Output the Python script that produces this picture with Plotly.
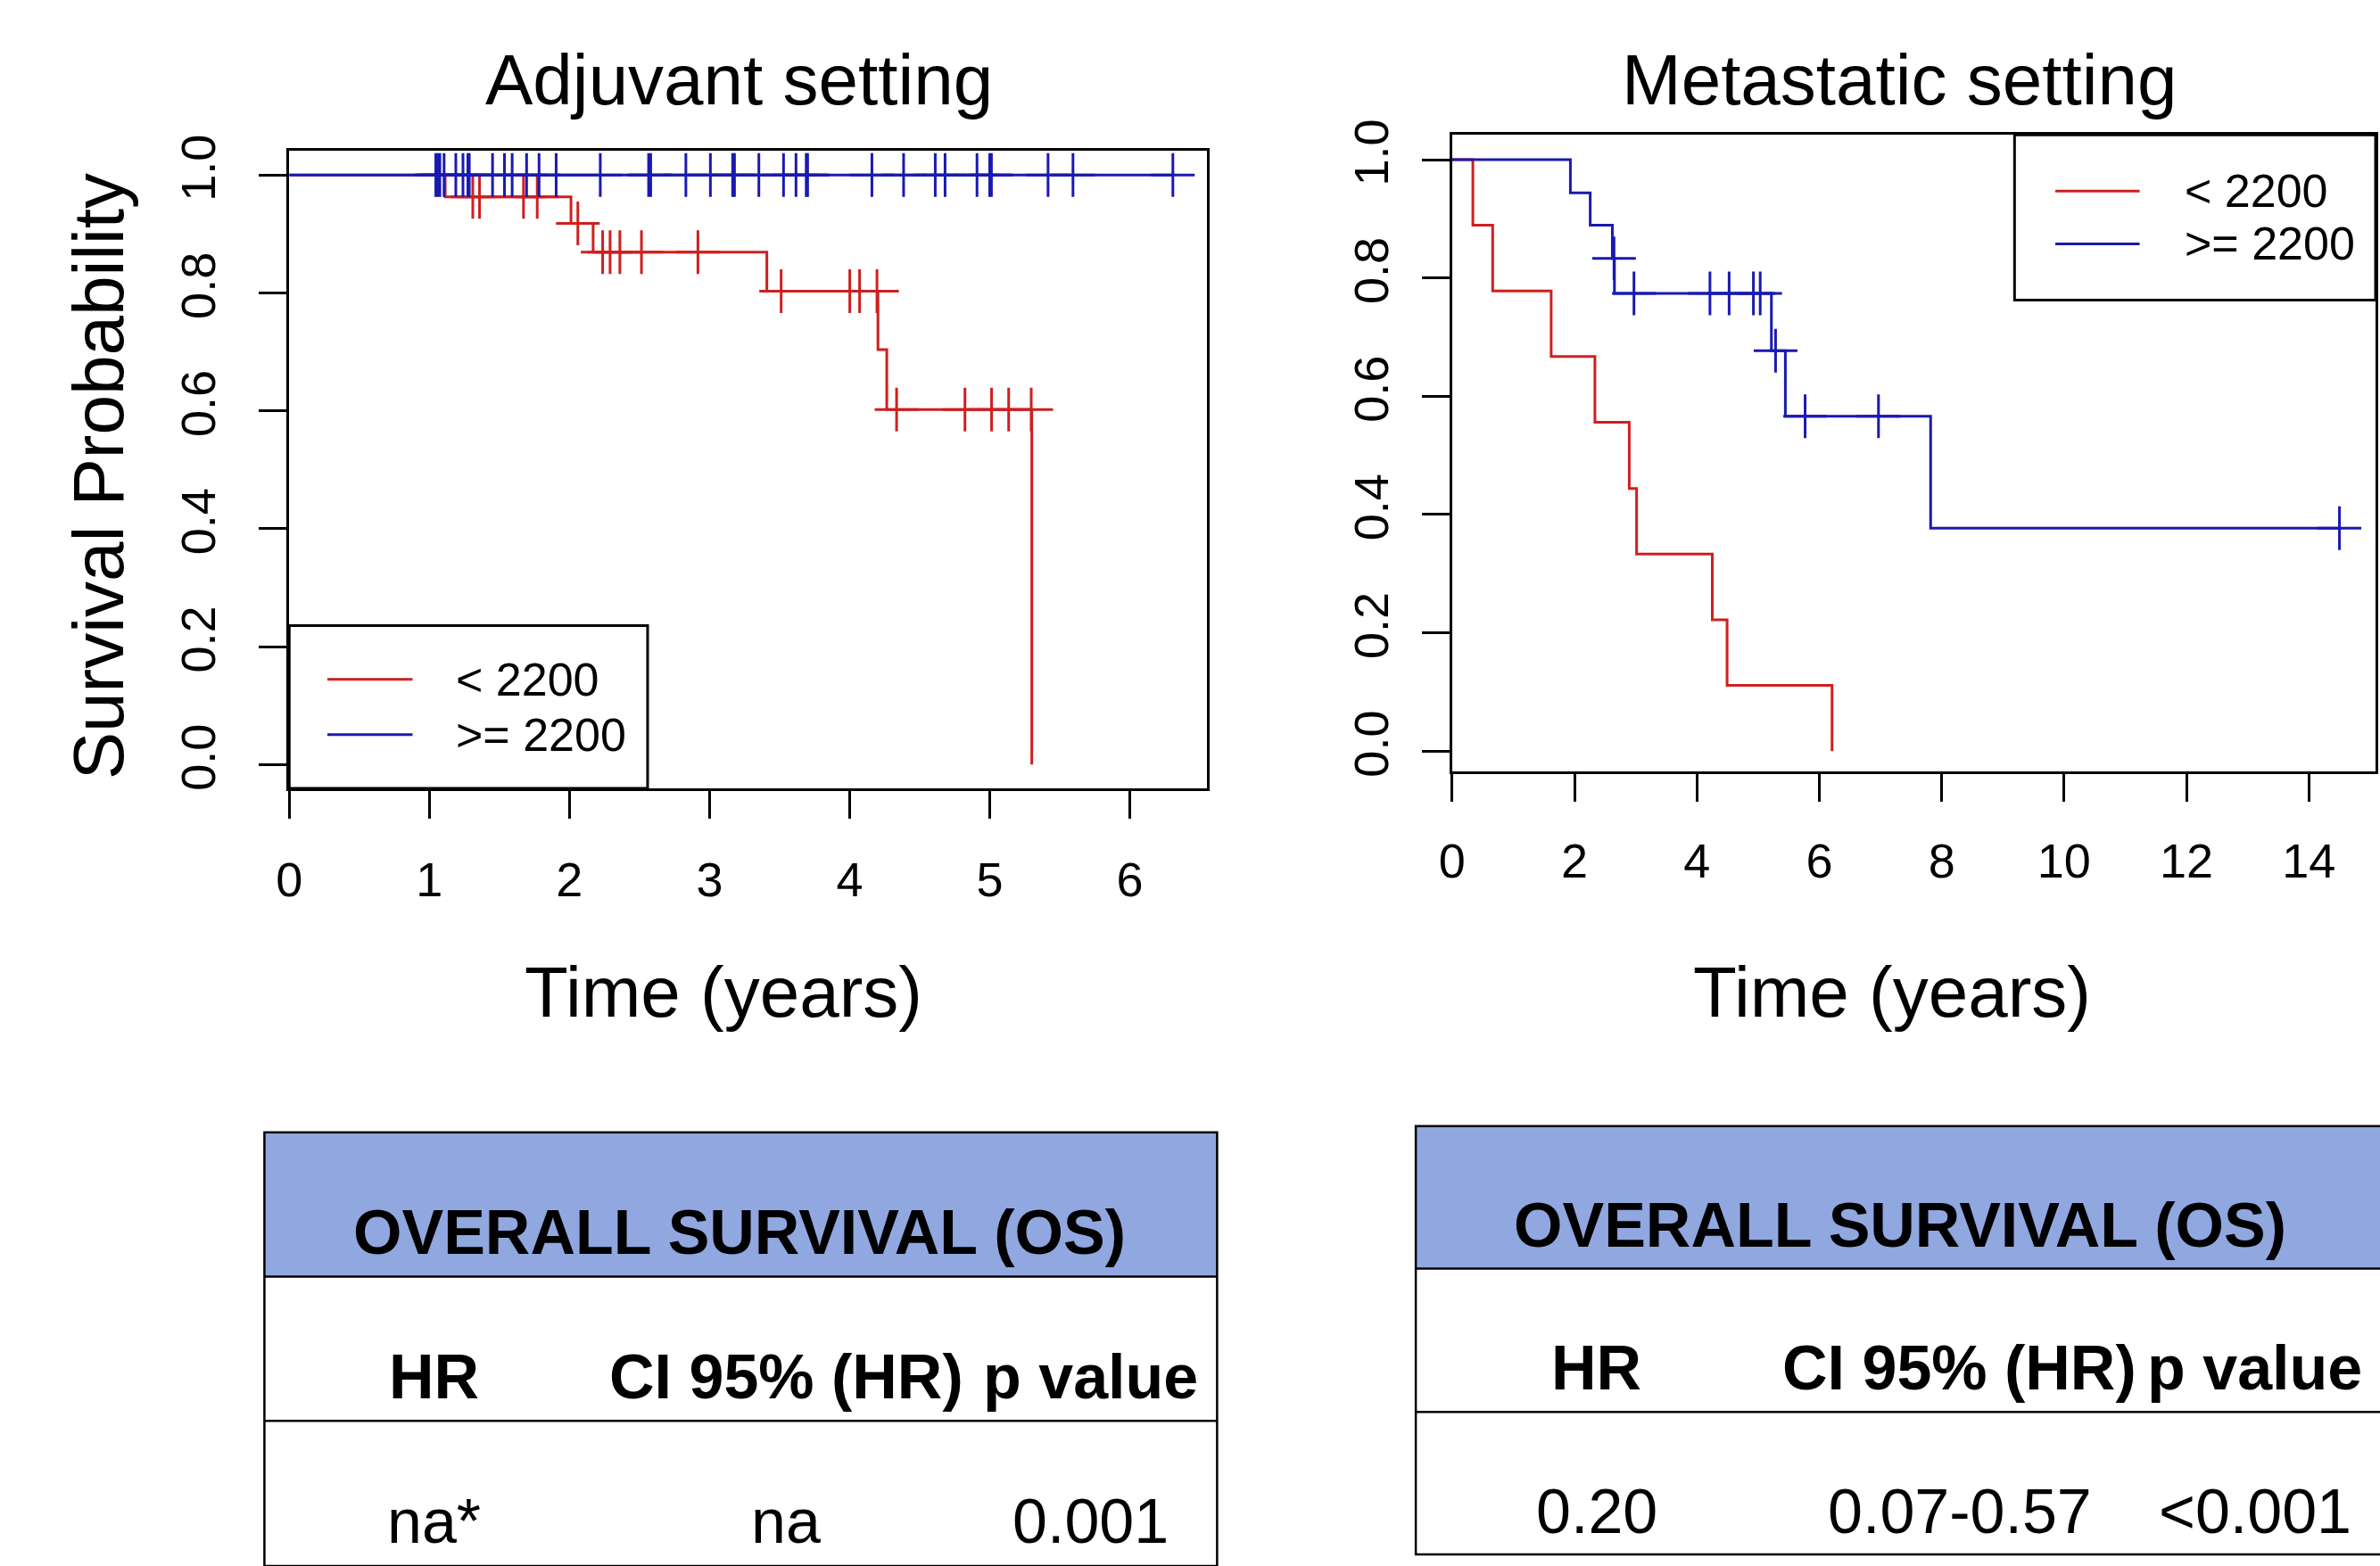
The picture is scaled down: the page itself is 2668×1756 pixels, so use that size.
import plotly.graph_objects as go

W, H = 2668, 1756

# ---------------- data ----------------
GROUPS = ["< 2200", ">= 2200"]
COLORS = ["#cf1f1f", "#1a1ab0"]

PANEL_TITLES = ["Adjuvant setting", "Metastatic setting"]
X_TITLE = "Time (years)"
Y_TITLE = "Survival Probability"

# Adjuvant setting, group < 2200 (step times / survival after step)
adj_low_time = [0, 1.113, 2.011, 2.169, 3.409, 4.202, 4.265, 5.300]
adj_low_surv = [1.0, 0.963, 0.918, 0.869, 0.803, 0.704, 0.602, 0.0]
adj_low_cens = [1.310, 1.358, 1.672, 1.770, 2.060, 2.237, 2.290, 2.360, 2.514,
                2.917, 3.511, 4.001, 4.071, 4.195, 4.335, 4.823, 5.013, 5.135,
                5.296]
# Adjuvant setting, group >= 2200 (no events)
adj_high_time = [0]
adj_high_surv = [1.0]
adj_high_cens = [1.046, 1.060, 1.075, 1.105, 1.189, 1.240, 1.275, 1.285, 1.451,
                 1.536, 1.591, 1.694, 1.783, 1.905, 2.220, 2.565, 2.580, 2.831,
                 3.006, 3.165, 3.178, 3.352, 3.528, 3.617, 3.690, 3.700, 4.159,
                 4.385, 4.611, 4.681, 4.909, 5.000, 5.012, 5.416, 5.594, 6.307]

# Metastatic setting, group < 2200
met_low_time = [0, 0.338, 0.662, 1.618, 2.333, 2.894, 3.014, 4.251, 4.493, 6.208]
met_low_surv = [1.0, 0.889, 0.778, 0.667, 0.556, 0.444, 0.333, 0.222, 0.111, 0.0]
met_low_cens = []
# Metastatic setting, group >= 2200
met_high_time = [0, 1.932, 2.256, 2.618, 2.652, 5.217, 5.445, 7.819]
met_high_surv = [1.0, 0.944, 0.889, 0.833, 0.774, 0.677, 0.566, 0.377]
met_high_cens = [2.645, 2.971, 4.213, 4.526, 4.923, 5.034, 5.285, 5.768, 6.967,
                 14.50]

ADJ_XTICKS = [0, 1, 2, 3, 4, 5, 6]
MET_XTICKS = [0, 2, 4, 6, 8, 10, 12, 14]
YTICKS = [0.0, 0.2, 0.4, 0.6, 0.8, 1.0]
YTICK_TEXT = ["0.0", "0.2", "0.4", "0.6", "0.8", "1.0"]

TABLE_HEADER = "OVERALL SURVIVAL (OS)"
TABLE_COLS = ["HR", "CI 95% (HR)", "p value"]
adj_stats = ["na*", "na", "0.001"]
met_stats = ["0.20", "0.07-0.57", "<0.001"]

# ---------------- helpers ----------------
FONT = "Liberation Sans, Arial, Helvetica, sans-serif"


def px(x):
    return x / W


def py(y):
    return 1 - y / H


def esc(s):
    return s.replace("&", "&amp;").replace("<", "&lt;").replace(">", "&gt;")


def km_xy(times, surv, cens):
    xs, ys = list(times), list(surv)
    if cens and max(cens) > xs[-1]:
        xs.append(max(cens))
        ys.append(ys[-1])
    return xs, ys


def surv_at(times, surv, t):
    s = surv[0]
    for ti, si in zip(times, surv):
        if ti <= t:
            s = si
    return s


fig = go.Figure()

panels = [
    ("x", "y", [(adj_low_time, adj_low_surv, adj_low_cens),
                (adj_high_time, adj_high_surv, adj_high_cens)]),
    ("x2", "y2", [(met_low_time, met_low_surv, met_low_cens),
                  (met_high_time, met_high_surv, met_high_cens)]),
]

for xa, ya, groups in panels:
    for gi, (t, s, c) in enumerate(groups):
        xs, ys = km_xy(t, s, c)
        fig.add_trace(go.Scatter(
            x=xs, y=ys, mode="lines", line=dict(color=COLORS[gi], width=3, shape="hv"),
            xaxis=xa, yaxis=ya, showlegend=False, name=GROUPS[gi], hoverinfo="skip"))
        if c:
            fig.add_trace(go.Scatter(
                x=c, y=[surv_at(t, s, ci) for ci in c], mode="markers",
                marker=dict(symbol="cross-thin", size=35,
                            line=dict(color=COLORS[gi], width=3)),
                xaxis=xa, yaxis=ya, showlegend=False, hoverinfo="skip"))

axis_common = dict(
    showline=True, linecolor="black", linewidth=3, mirror=True,
    ticks="outside", ticklen=31, tickwidth=3, tickcolor="black",
    showgrid=False, zeroline=False,
    tickfont=dict(family=FONT, size=54, color="black"),
)

fig.update_layout(
    width=W, height=H,
    margin=dict(l=0, r=0, t=0, b=0),
    paper_bgcolor="white", plot_bgcolor="white",
    showlegend=False,
    xaxis=dict(domain=[px(311), px(1346)], range=[0, 6.553], tickvals=ADJ_XTICKS,
               anchor="y", ticklabelstandoff=22, **axis_common),
    yaxis=dict(domain=[py(878), py(153)], range=[-0.0403, 1.0413], tickvals=YTICKS,
               ticktext=YTICK_TEXT, tickangle=-90, anchor="x",
               ticklabelstandoff=28, **axis_common),
    xaxis2=dict(domain=[px(1622), px(2663)], range=[0, 15.09], tickvals=MET_XTICKS,
                anchor="y2", ticklabelstandoff=20, **axis_common),
    yaxis2=dict(domain=[py(859), py(135)], range=[-0.0348, 1.0420], tickvals=YTICKS,
                ticktext=YTICK_TEXT, tickangle=-90, anchor="x2",
                ticklabelstandoff=16, **axis_common),
)

shapes = []
annotations = []


def text(x, y, s, size, xanchor="center", weight="normal", angle=0):
    annotations.append(dict(
        x=px(x), y=py(y), xref="paper", yref="paper", text=esc(s),
        showarrow=False, xanchor=xanchor, yanchor="middle", textangle=angle,
        font=dict(family=FONT, size=size, color="black", weight=weight)))


def line(x0, y0, x1, y1, color="black", width=3):
    shapes.append(dict(type="line", xref="paper", yref="paper",
                       x0=px(x0), y0=py(y0), x1=px(x1), y1=py(y1),
                       line=dict(color=color, width=width)))


def rect(x0, y0, x1, y1, fill=None, lw=3):
    shapes.append(dict(type="rect", xref="paper", yref="paper",
                       x0=px(x0), y0=py(y0), x1=px(x1), y1=py(y1),
                       fillcolor=fill if fill else "rgba(0,0,0,0)",
                       line=dict(color="black", width=lw) if lw else dict(width=0)))


# panel titles & axis titles
TITLE_FS = 80
text(818, 72, PANEL_TITLES[0], TITLE_FS)
text(2126, 72, PANEL_TITLES[1], TITLE_FS)
text(800, 1110, X_TITLE, TITLE_FS)
text(2118, 1110, X_TITLE, TITLE_FS)
text(96, 523, Y_TITLE, TITLE_FS, angle=-90)

# legends (R-style boxed legends)
rect(311, 693, 715, 878, fill="white")
line(354, 754, 450, 754, COLORS[0], 3)
line(354, 817, 450, 817, COLORS[1], 3)
text(497, 754, GROUPS[0], 52, xanchor="left")
text(497, 817, GROUPS[1], 52, xanchor="left")

rect(2256, 135, 2663, 323, fill="white")
line(2302, 199, 2397, 199, COLORS[0], 3)
line(2302, 259, 2397, 259, COLORS[1], 3)
text(2446, 199, GROUPS[0], 52, xanchor="left")
text(2446, 259, GROUPS[1], 52, xanchor="left")

# tables
HEAD_FILL = "#91a7e0"
TAB_FS = 70
tables = [
    dict(x0=283, x1=1357, top=1269, hb=1433, rb=1597, bottom=1762,
         head_y=1383, col_y=1547, val_y=1711, cols=[474, 871, 1214],
         head_x=819, vals=adj_stats),
    dict(x0=1581, x1=2675, top=1262, hb=1424, rb=1587, bottom=1749,
         head_y=1375, col_y=1537, val_y=1700, cols=[1785, 2194, 2527],
         head_x=2127, vals=met_stats),
]
for tb in tables:
    rect(tb["x0"], tb["top"], tb["x1"], tb["hb"], fill=HEAD_FILL, lw=0)
    rect(tb["x0"], tb["top"], tb["x1"], tb["bottom"], lw=2.5)
    line(tb["x0"], tb["hb"], tb["x1"], tb["hb"], width=2.5)
    line(tb["x0"], tb["rb"], tb["x1"], tb["rb"], width=2.5)
    text(tb["head_x"], tb["head_y"], TABLE_HEADER, TAB_FS, weight="bold")
    for cx, ct, cv in zip(tb["cols"], TABLE_COLS, tb["vals"]):
        text(cx, tb["col_y"], ct, TAB_FS, weight="bold")
        text(cx, tb["val_y"], cv, TAB_FS)

fig.update_layout(shapes=shapes, annotations=annotations)
fig.write_html("out.html",
               config={"displayModeBar": False},
               post_script="document.body.style.margin='0';"
                           "document.body.style.overflow='hidden';")
